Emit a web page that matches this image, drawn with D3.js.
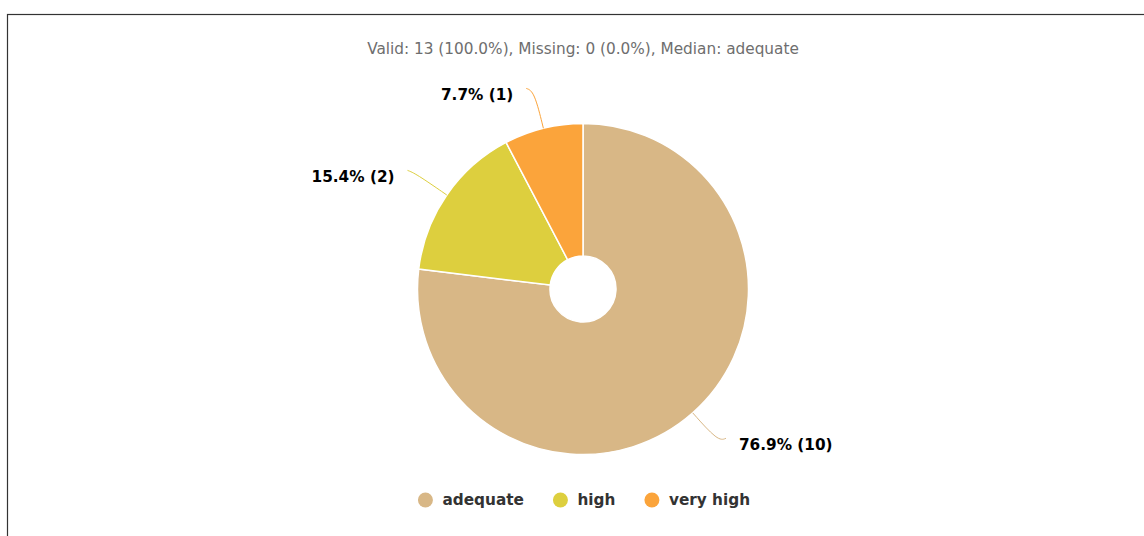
<!DOCTYPE html>
<html>
<head>
<meta charset="utf-8">
<script src="https://cdn.jsdelivr.net/npm/d3@7"></script>
<style>
  body { margin: 0; background: #fff; }
  svg { display: block; }
</style>
</head>
<body>
<script>
// data
let categories = ["adequate", "high", "very high"];
let counts = [10, 2, 1];
let colors = ["#d8b786", "#ddcf3e", "#fba43b"];
let title = "Valid: 13 (100.0%), Missing: 0 (0.0%), Median: adequate";

let canvasW = 1144;
let canvasH = 536;
let cx = 583;
let cy = 289;
let outerR = 165.5;
let innerR = 33;

let svg = d3.select("body").append("svg")
  .attr("width", canvasW)
  .attr("height", canvasH);

// frame
svg.append("rect")
  .attr("x", 7.5)
  .attr("y", 14.5)
  .attr("width", 1160)
  .attr("height", 560)
  .attr("fill", "none")
  .attr("stroke", "#333")
  .attr("stroke-width", 1.2);

svg.append("text")
  .attr("x", cx)
  .attr("y", 48.5)
  .attr("text-anchor", "middle")
  .attr("dominant-baseline", "central")
  .attr("font-family", "DejaVu Sans")
  .attr("font-size", "15.3px")
  .attr("fill", "#6e6e6e")
  .text(title);

let total = d3.sum(counts);
let rows = categories.map((c, i) => ({ name: c, value: counts[i], color: colors[i] }));

let pie = d3.pie().value(d => d.value).sort(null);
let arcs = pie(rows);

let arc = d3.arc().innerRadius(innerR).outerRadius(outerR);

let g = svg.append("g").attr("transform", "translate(" + cx + "," + cy + ")");

g.selectAll("path.slice")
  .data(arcs)
  .enter()
  .append("path")
  .attr("class", "slice")
  .attr("d", arc)
  .attr("fill", d => d.data.color)
  .attr("stroke", "#fff")
  .attr("stroke-width", 1.5);

// labels with leader lines
let len1 = 38;
let len2 = 8;
let line = d3.line().curve(d3.curveBasis);

arcs.forEach(d => {
  let mid = (d.startAngle + d.endAngle) / 2;
  let sx = Math.sin(mid), sy = -Math.cos(mid);
  let p0 = [sx * outerR, sy * outerR];
  let p1 = [sx * (outerR + len1), sy * (outerR + len1)];
  let dir = sx >= 0 ? 1 : -1;
  let p2 = [p1[0] + dir * len2, p1[1] - 3];

  g.append("path")
    .attr("d", line([p0, p1, p2]))
    .attr("fill", "none")
    .attr("stroke", d.data.color)
    .attr("stroke-width", 1);

  let pct = (d.data.value / total * 100).toFixed(1);
  g.append("text")
    .attr("x", p2[0] + dir * 13)
    .attr("y", p2[1] + 7)
    .attr("text-anchor", dir > 0 ? "start" : "end")
    .attr("dominant-baseline", "central")
    .attr("font-family", "DejaVu Sans")
    .attr("font-weight", "bold")
    .attr("font-size", "15.3px")
    .attr("fill", "#000")
    .text(pct + "% (" + d.data.value + ")");
});

// legend
let legend = svg.append("g");
let items = legend.selectAll("g.item")
  .data(rows)
  .enter()
  .append("g")
  .attr("class", "item");

items.append("circle")
  .attr("r", 7.5)
  .attr("cx", 7.5)
  .attr("cy", 0)
  .attr("fill", d => d.color);

items.append("text")
  .attr("x", 24.5)
  .attr("y", 0)
  .attr("dominant-baseline", "central")
  .attr("font-family", "DejaVu Sans")
  .attr("font-weight", "bold")
  .attr("font-size", "15.3px")
  .attr("fill", "#333")
  .text(d => d.name);

let xpos = 0;
let offsets = [];
items.each(function () {
  offsets.push(xpos);
  xpos += this.getBBox().width + 29;
});
let legendW = xpos - 29;
items.attr("transform", (d, i) => "translate(" + offsets[i] + ",0)");
legend.attr("transform", "translate(" + (cx + 1 - legendW / 2) + ",500)");
</script>
</body>
</html>
